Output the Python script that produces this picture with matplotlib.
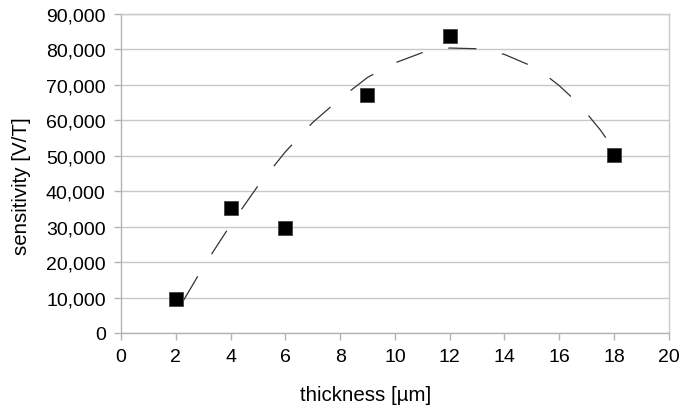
import numpy as np
import matplotlib
matplotlib.use("Agg")
import matplotlib.pyplot as plt
from matplotlib.ticker import FuncFormatter

plt.rcParams['font.family'] = ['Liberation Sans', 'DejaVu Sans']
plt.rcParams['lines.scale_dashes'] = False

# measured points
thickness = [2, 4, 6, 9, 12, 18]
sensitivity = [9500, 35300, 29600, 67200, 83800, 50200]

# dashed trend line
trend_x = [2, 3, 4, 5, 6, 7, 8, 9, 10, 11, 12, 13, 14, 15, 15.5, 16, 16.5, 17, 17.5, 18]
trend_y = [5500, 18600, 30500, 41500, 51100, 59400, 66100, 72100, 76200, 79100,
           80400, 80200, 78600, 75300, 72800, 69800, 66200, 62000, 57300, 51800]

xticks = list(range(0, 21, 2))
yticks = list(range(0, 90001, 10000))

fig = plt.figure(figsize=(6.81, 4.10), dpi=100)
ax = fig.add_axes([0.1777, 0.1854, 0.8043, 0.778])

ax.plot(trend_x, trend_y, color='#333333', lw=0.9, ls=(28, (20.2, 18.7)), zorder=2)
ax.plot(thickness, sensitivity, ls='none', marker='s', ms=10, mfc='black', mec='#444444', mew=0.6, zorder=3)

ax.set_xlim(0, 20)
ax.set_ylim(0, 90000)
ax.set_xticks(xticks)
ax.set_yticks(yticks)
ax.yaxis.set_major_formatter(FuncFormatter(lambda v, p: f"{int(v):,}"))
ax.grid(axis='y', color='#c8c8c8', lw=1)
ax.set_axisbelow(True)
for s in ax.spines.values():
    s.set_color('#c8c8c8')
    s.set_linewidth(1)
ax.spines['bottom'].set_color('#b3b3b3')
ax.spines['left'].set_color('#b3b3b3')
ax.tick_params(axis='both', colors='#b3b3b3', labelcolor='black', length=5, width=1, labelsize=14)
ax.tick_params(axis='x', pad=6)
ax.tick_params(axis='y', pad=6)

ax.set_xlabel('thickness [µm]', fontsize=14.8)
ax.set_ylabel('sensitivity [V/T]', fontsize=14.8)
ax.xaxis.set_label_coords(0.447, -0.163)
ax.yaxis.set_label_coords(-0.165, 0.464)

fig.savefig('out.png', dpi=100)
